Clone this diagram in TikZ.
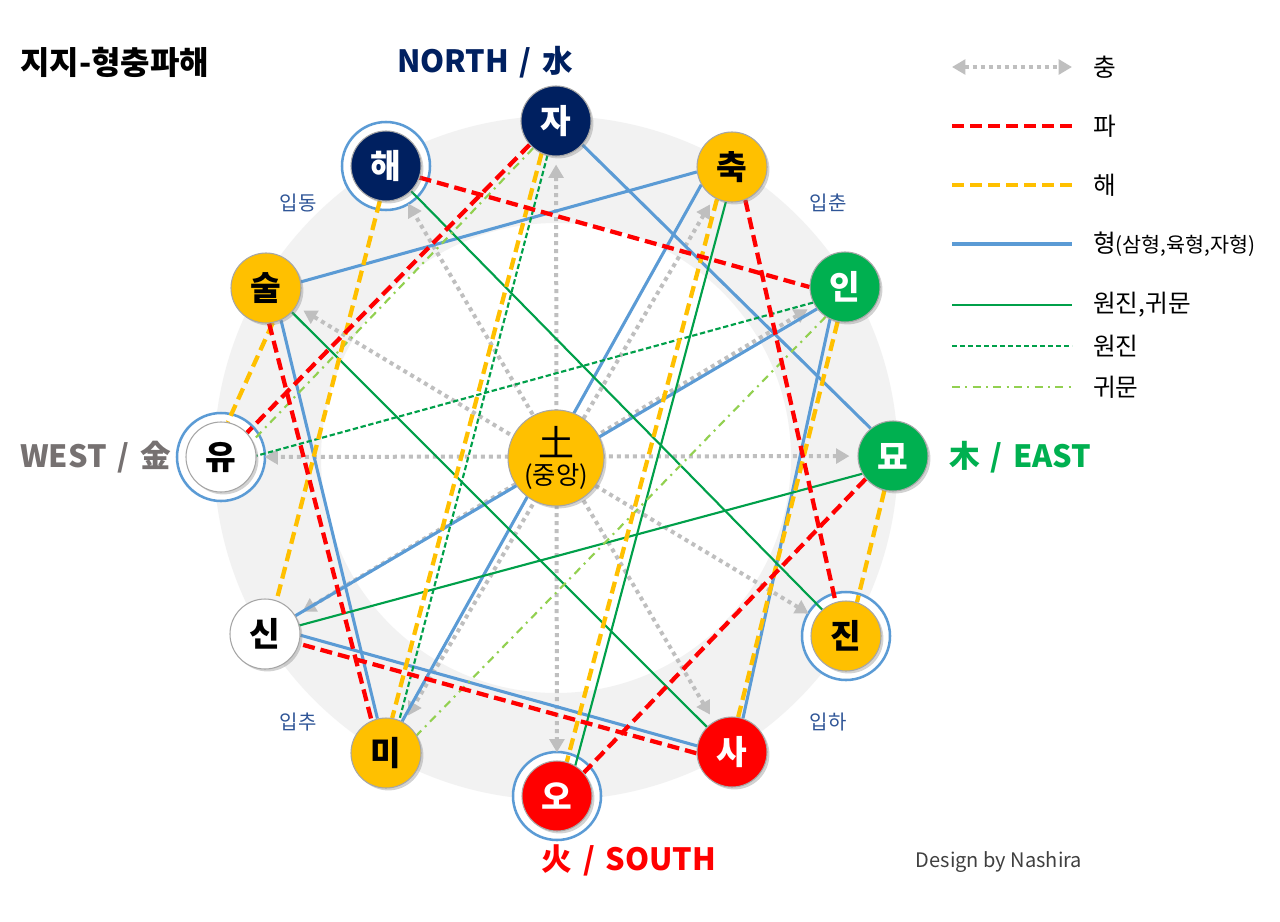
\documentclass[tikz,border=0pt]{standalone}
\usepackage{fontspec}
\setmainfont{Noto Sans CJK KR}
\usetikzlibrary{arrows.meta,shadows}
\definecolor{navy}{HTML}{002060}
\definecolor{gold}{HTML}{FFC000}
\definecolor{ngreen}{HTML}{00B050}
\definecolor{nred}{HTML}{FF0000}
\definecolor{ringblue}{HTML}{5B9BD5}
\definecolor{nborder}{HTML}{A6A6A6}
\definecolor{bandgray}{HTML}{F2F2F2}
\definecolor{chgray}{HTML}{BFBFBF}
\definecolor{lgreen}{HTML}{00A04A}
\definecolor{lightgr}{HTML}{92D050}
\definecolor{sublabel}{HTML}{2F5597}
\definecolor{westgray}{HTML}{767171}
\definecolor{creditc}{HTML}{404040}
\pgfdeclarelayer{bg}
\pgfdeclarelayer{lines}
\pgfsetlayers{bg,lines,main}
\tikzset{
  zhi/.style={circle, minimum size=52.5pt, inner sep=0pt, draw=nborder, line width=0.8pt,
    font=\bfseries\fontsize{25}{25}\selectfont,
    drop shadow={shadow xshift=1.8pt, shadow yshift=-1.8pt, opacity=0.35}},
  water/.style={zhi, fill=navy, text=white},
  earth/.style={zhi, fill=gold, text=black},
  wood/.style={zhi, fill=ngreen, text=white},
  fire/.style={zhi, fill=nred, text=white},
  metal/.style={zhi, fill=white, text=black},
  selfring/.style={draw=ringblue, line width=1.9pt, fill=white},
  pa/.style={draw=nred, line width=3.2pt, dash pattern=on 9pt off 4.5pt},
  haeline/.style={draw=gold, line width=3.2pt, dash pattern=on 9pt off 4.5pt},
  hyeong/.style={draw=ringblue, line width=2.3pt},
  wg/.style={draw=lgreen, line width=1.6pt},
  wj/.style={draw=lgreen, line width=1.6pt, dash pattern=on 4pt off 2pt},
  gm/.style={draw=lightgr, line width=1.6pt, dash pattern=on 6pt off 4pt on 1.5pt off 4pt},
  chung/.style={draw=chgray, line width=3pt, dash pattern=on 3pt off 3pt,
    arrows={Triangle[length=10pt,width=11pt]-Triangle[length=10pt,width=11pt]},
    shorten <=6pt, shorten >=6pt},
  dirlabel/.style={font=\bfseries\fontsize{23}{23}\selectfont, inner sep=0pt},
  sublbl/.style={font=\fontsize{15}{15}\selectfont, text=sublabel, inner sep=0pt},
  legtext/.style={font=\fontsize{18.5}{18.5}\selectfont, anchor=west, inner sep=0pt}
}
\begin{document}
\begin{tikzpicture}[x=0.75pt, y=-0.75pt]
\useasboundingbox (0,0) rectangle (1280,921);

% branch nodes
\node[water] (nJa)   at (556,121) {자};
\node[earth] (nChuk) at (732,167) {축};
\node[wood]  (nIn)   at (845,287) {인};
\node[wood]  (nMyo)  at (893,456) {묘};
\node[earth] (nJin)  at (846,636) {진};
\node[fire]  (nSa)   at (732,752) {사};
\node[fire]  (nO)    at (557,796) {오};
\node[earth] (nMi)   at (386,753) {미};
\node[metal] (nSin)  at (265,634) {신};
\node[metal] (nYu)   at (221,457) {유};
\node[earth] (nSul)  at (266,288) {술};
\node[water] (nHae)  at (386,166) {해};
\node[zhi, fill=gold, text=black, minimum size=72pt, align=center,
      font=\fontsize{27}{27}\selectfont] (nTo) at (556,458)
      {土\\[-6pt]\fontsize{19}{19}\selectfont(중앙)};

% texts
\node[anchor=west, inner sep=0pt, font=\bfseries\fontsize{24}{24}\selectfont] (title) at (20,62) {지지-형충파해};
\node[dirlabel, text=navy] (north) at (485,62) {NORTH\hspace{0.35em}/\hspace{0.35em}水};
\node[dirlabel, text=ngreen, anchor=west] (east) at (949,457) {木\hspace{0.35em}/\hspace{0.35em}EAST};
\node[dirlabel, text=westgray, anchor=east] (west) at (171,457) {WEST\hspace{0.35em}/\hspace{0.35em}金};
\node[dirlabel, text=nred] (south) at (629,860) {火\hspace{0.35em}/\hspace{0.35em}SOUTH};
\node[font=\fontsize{15}{15}\selectfont, text=creditc, inner sep=0pt] (credit) at (999,862) {Design by Nashira};
\node[sublbl] (ipdong) at (298,203) {입동};
\node[sublbl] (ipchun) at (828,203) {입춘};
\node[sublbl] (ipchu)  at (298,722) {입추};
\node[sublbl] (ipha)   at (828,722) {입하};

% legend
\coordinate (l1a) at (952,67);  \coordinate (l1b) at (1072,67);
\coordinate (l2a) at (952,126); \coordinate (l2b) at (1072,126);
\coordinate (l3a) at (952,185); \coordinate (l3b) at (1072,185);
\coordinate (l4a) at (952,244); \coordinate (l4b) at (1072,244);
\coordinate (l5a) at (952,305); \coordinate (l5b) at (1072,305);
\coordinate (l6a) at (952,346); \coordinate (l6b) at (1072,346);
\coordinate (l7a) at (952,387); \coordinate (l7b) at (1072,387);
\draw[chung, shorten <=0pt, shorten >=0pt] (l1a) -- (l1b);
\draw[pa] (l2a) -- (l2b);
\draw[haeline] (l3a) -- (l3b);
\draw[hyeong] (l4a) -- (l4b);
\draw[wg] (l5a) -- (l5b);
\draw[wj] (l6a) -- (l6b);
\draw[gm] (l7a) -- (l7b);
\node[legtext] (t1) at (1093,67) {충};
\node[legtext] (t2) at (1093,126) {파};
\node[legtext] (t3) at (1093,185) {해};
\node[legtext] (t4) at (1093,244) {형{\fontsize{15.5}{15.5}\selectfont(삼형,육형,자형)}};
\node[legtext] (t5) at (1093,305) {원진,귀문};
\node[legtext] (t6) at (1093,346) {원진};
\node[legtext] (t7) at (1093,387) {귀문};

\begin{pgfonlayer}{lines}
% chung (clash)
\draw[chung] (nJa) -- (nO);
\draw[chung] (nChuk) -- (nMi);
\draw[chung] (nIn) -- (nSin);
\draw[chung] (nMyo) -- (nYu);
\draw[chung] (nJin) -- (nSul);
\draw[chung] (nSa) -- (nHae);
% hyeong
\draw[hyeong] (nJa.318) -- (nMyo.129);
\draw[hyeong] (nChuk.188) -- (nSul.10);
\draw[hyeong] (nSul.295) -- (nMi.104);
\draw[hyeong] (nChuk.210) -- (nMi.63);
\draw[hyeong] (nIn.245) -- (nSa.72);
\draw[hyeong] (nSa.170) -- (nSin.358);
\draw[hyeong] (nSin.31) -- (nIn.218);
% wonjin + gwimun
\draw[wg] (nChuk.260) -- (nO.59);
\draw[wg] (nMyo.210) -- (nSin.14);
\draw[wg] (nHae.315) -- (nJin.132);
\draw[wg] (nSul.317) -- (nSa.135);
% wonjin
\draw[wj] (nJa.256) -- (nMi.68);
\draw[wj] (nIn.206) -- (nYu.2);
% gwimun
\draw[gm] (nJa.230) -- (nYu.27);
\draw[gm] (nIn.237) -- (nMi.30);
% hae
\draw[haeline] (nJa.246) -- (nMi.80);
\draw[haeline] (nChuk.245) -- (nO.74);
\draw[haeline] (nIn.258) -- (nSa.80);
\draw[haeline] (nMyo.256) -- (nJin.72);
\draw[haeline] (nHae.260) -- (nSin.71);
\draw[haeline] (nSul.281) -- (nYu.79);
% pa
\draw[pa] (nJa.222) -- (nYu.43);
\draw[pa] (nHae.341) -- (nIn.180);
\draw[pa] (nChuk.292) -- (nJin.107);
\draw[pa] (nMyo.220) -- (nO.41);
\draw[pa] (nSa.182) -- (nSin.344);
\draw[pa] (nSul.275) -- (nMi.114);
\end{pgfonlayer}

\begin{pgfonlayer}{bg}
\fill[white] (0,0) rectangle (1280,921);
\fill[bandgray, even odd rule] (nTo.center) circle[radius=256.5pt] (nTo.center) circle[radius=176.25pt];
\draw[selfring] (nHae.center) circle[radius=33pt];
\draw[selfring] (nYu.center) circle[radius=33pt];
\draw[selfring] (nJin.center) circle[radius=33pt];
\draw[selfring] (nO.center) circle[radius=33pt];
\end{pgfonlayer}
\end{tikzpicture}
\end{document}
